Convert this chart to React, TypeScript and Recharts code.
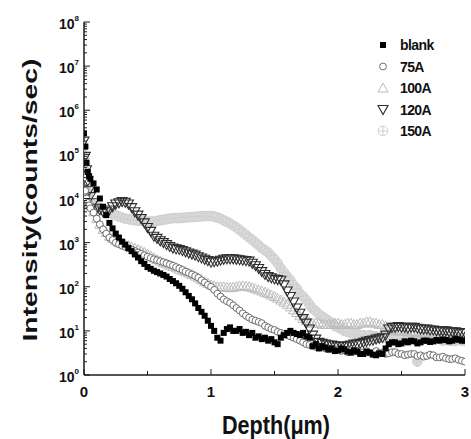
import React from 'react'
import { ScatterChart, Scatter, XAxis, YAxis, Legend } from 'recharts'

// depth in µm: surface spike, then every 0.025
const depth = [
  0, 0.01, 0.02, 0.03, 0.04,
  0.05, 0.075, 0.1, 0.125, 0.15, 0.175, 0.2, 0.225, 0.25, 0.275,
  0.3, 0.325, 0.35, 0.375, 0.4, 0.425, 0.45, 0.475, 0.5, 0.525,
  0.55, 0.575, 0.6, 0.625, 0.65, 0.675, 0.7, 0.725, 0.75, 0.775,
  0.8, 0.825, 0.85, 0.875, 0.9, 0.925, 0.95, 0.975, 1.0, 1.025,
  1.05, 1.075, 1.1, 1.125, 1.15, 1.175, 1.2, 1.225, 1.25, 1.275,
  1.3, 1.325, 1.35, 1.375, 1.4, 1.425, 1.45, 1.475, 1.5, 1.525,
  1.55, 1.575, 1.6, 1.625, 1.65, 1.675, 1.7, 1.725, 1.75, 1.775,
  1.8, 1.825, 1.85, 1.875, 1.9, 1.925, 1.95, 1.975, 2.0, 2.025,
  2.05, 2.075, 2.1, 2.125, 2.15, 2.175, 2.2, 2.225, 2.25, 2.275,
  2.3, 2.325, 2.35, 2.375, 2.4, 2.425, 2.45, 2.475, 2.5, 2.525,
  2.55, 2.575, 2.6, 2.625, 2.65, 2.675, 2.7, 2.725, 2.75, 2.775,
  2.8, 2.825, 2.85, 2.875, 2.9, 2.925, 2.95, 2.975, 3.0,
]

const blank = [
  300000, 150000, 65000, 40000, 32000,
  28000, 22000, 16000, 10000, 6500, 4200, 2800, 2100, 1600, 1300,
  1050, 900, 750, 640, 540, 460, 380, 330, 280, 255,
  230, 215, 200, 185, 170, 150, 135, 120, 105, 90,
  75, 62, 52, 42, 33, 27, 22, 17, 13, 10,
  7, 6, 9, 11, 12, 10, 10, 11, 9, 9.5,
  8, 9, 7, 7.5, 6.5, 7, 6, 6.5, 5.5, 5,
  7, 8, 9, 10, 9, 8.5, 8, 9, 7.5, 7,
  4.5, 5, 4, 4.5, 4.2, 3.8, 4, 3.5, 3.6, 4,
  3.8, 3.4, 3.2, 3.6, 3.4, 3, 3, 3.4, 3.2, 2.9,
  2.8, 3.1, 3, 4, 5, 5.5, 5.5, 5, 5.2, 5.8,
  5.5, 6, 5.8, 5.2, 5.5, 6, 6, 5.6, 5.8, 6.2,
  6, 6.4, 6.2, 5.8, 6, 6.5, 6.3, 6, 6,
]

const a75 = [
  30000, 15000, 10000, 8000, 7000,
  6000, 4800, 3500, 2600, 2000, 1600, 1300, 1150, 1000, 920,
  850, 800, 750, 700, 650, 600, 560, 520, 480, 450,
  420, 400, 380, 360, 340, 320, 300, 280, 260, 240,
  220, 205, 190, 175, 160, 140, 125, 110, 100, 85,
  70, 60, 52, 47, 43, 38, 33, 29, 25, 22,
  20, 18, 17, 16, 15, 13, 12, 11, 10.5, 9.5,
  9, 8.5, 8, 7.5, 7, 6.5, 6, 5.5, 5, 4.8,
  4.5, 4.3, 4.2, 4.4, 4, 3.8, 3.9, 3.6, 3.8, 3.5,
  3.6, 3.3, 3.6, 3.4, 3.4, 3.2, 3.3, 3.5, 3.2, 3.1,
  3.5, 3.2, 3.2, 3, 3.1, 3.3, 3.3, 3, 3, 2.8,
  2.9, 3, 3, 2.7, 2.8, 2.6, 2.7, 2.9, 2.8, 2.5,
  2.5, 2.6, 2.4, 2.3, 2.3, 2.4, 2.2, 2.1, 2,
]

const a100 = [
  100000, 50000, 25000, 14000, 9000,
  7000, 5000, 3500, 2600, 2000, 1700, 1400, 1250, 1100, 1000,
  950, 900, 850, 800, 750, 700, 650, 600, 550, 500,
  450, 410, 380, 350, 330, 310, 290, 270, 250, 235,
  220, 205, 190, 175, 160, 145, 130, 120, 110, 105,
  100, 100, 100, 97, 95, 98, 100, 103, 105, 102,
  100, 95, 90, 85, 80, 75, 70, 65, 60, 55,
  50, 45, 40, 35, 30, 26, 22, 19, 17, 16,
  15, 15, 15, 14, 14, 14, 14, 15, 15, 14,
  14, 15, 15, 14, 14, 15, 15, 16, 16, 15,
  15, 14, 14, 13, 11, 11, 10, 10, 10, 10,
  9.5, 9.5, 9.5, 9, 9, 9, 9, 8.5, 8.5, 8.5,
  8.5, 8, 8, 8, 8, 8, 7.5, 7.5, 7.5,
]

const a120 = [
  200000, 90000, 45000, 25000, 15000,
  11000, 8000, 6000, 5500, 5000, 5000, 5500, 6500, 7500, 8000,
  8500, 8200, 7500, 6200, 5000, 4200, 3500, 2800, 2200, 1800,
  1400, 1250, 1100, 1000, 900, 820, 750, 720, 700, 660,
  620, 580, 550, 520, 480, 450, 420, 390, 360, 370,
  380, 400, 420, 430, 430, 430, 420, 410, 400, 390,
  380, 340, 300, 260, 220, 190, 170, 160, 150, 145,
  140, 110, 80, 60, 45, 33, 25, 19, 15, 11,
  8, 6.5, 5.5, 5.2, 5, 4.8, 4.8, 4.6, 4.5, 4.5,
  4.5, 4.6, 4.8, 5, 5, 5.2, 5.5, 5.8, 6, 6.2,
  6.5, 6.8, 7, 8, 11, 12, 12, 12.5, 12, 12,
  11.5, 12, 12, 11.5, 11, 11, 11, 10.5, 10.5, 10,
  10, 10, 10, 9.5, 9.5, 9.5, 9, 9, 9,
]

const a150 = [
  150000, 40000, 15000, 10000, 8500,
  8000, 7200, 6500, 6000, 5500, 5100, 4800, 4500, 4200, 3900,
  3700, 3500, 3400, 3300, 3200, 3150, 3100, 3050, 3000, 3000,
  3000, 3100, 3200, 3300, 3400, 3500, 3600, 3600, 3600, 3650,
  3700, 3750, 3800, 3850, 3900, 3950, 4000, 4000, 4000, 3900,
  3700, 3500, 3200, 2950, 2700, 2450, 2200, 1950, 1700, 1500,
  1300, 1150, 1000, 870, 750, 670, 600, 500, 420, 340,
  260, 210, 170, 140, 110, 90, 70, 60, 50, 40,
  32, 28, 24, 21, 19, 17, 15, 13, 12, 11,
  10, 9.5, 9, 8.5, 8.5, 8, 8, 7.5, 8, 7.5,
  7.5, 7, 7.5, 7, 7, 7.5, 7, 6.5, 7, 7,
  7, 6.5, 6.5, 2, 7, 6.5, 7, 6.5, 6.5, 6.5,
  6.5, 6, 6.5, 6, 6, 6, 6.5, 6, 6,
]

const decades = [1, 10, 100, 1000, 10000, 100000, 1000000, 10000000, 100000000]
const minorSteps = [1, 2, 3, 4, 5, 6, 7, 8, 9]
const yTicks = decades.slice(0, -1).flatMap((d) => minorSteps.map((m) => d * m)).concat([100000000])
const xTicks = [0, 0.5, 1, 1.5, 2, 2.5, 3]

const FONT = '"Liberation Sans", Arial, sans-serif'
const AXIS = '#1c1c1c'

type Kind = 'square' | 'circle' | 'triUp' | 'triDown' | 'crossCircle'

const series: { name: string; values: number[]; kind: Kind; stroke: string; fill: string }[] = [
  { name: 'blank', values: blank, kind: 'square', stroke: '#000', fill: '#000' },
  { name: '75A', values: a75, kind: 'circle', stroke: '#6e6e6e', fill: '#fff' },
  { name: '100A', values: a100, kind: 'triUp', stroke: '#bcbcbc', fill: 'none' },
  { name: '120A', values: a120, kind: 'triDown', stroke: '#2e2e2e', fill: 'none' },
  { name: '150A', values: a150, kind: 'crossCircle', stroke: '#cfcfcf', fill: '#dadada' },
]

// bottom layer first
const drawOrder = ['150A', '100A', '120A', '75A', 'blank']

function Marker({ kind, cx, cy, stroke, fill }: { kind: Kind; cx: number; cy: number; stroke: string; fill: string }) {
  if (cx == null || cy == null || isNaN(cx) || isNaN(cy)) return null
  switch (kind) {
    case 'square':
      return <rect x={cx - 3} y={cy - 3} width={6} height={6} fill={fill} />
    case 'circle':
      return <circle cx={cx} cy={cy} r={3.4} fill={fill} stroke={stroke} strokeWidth={1} />
    case 'triUp':
      return <polygon points={`${cx},${cy - 5} ${cx - 5},${cy + 4} ${cx + 5},${cy + 4}`} fill={fill} stroke={stroke} strokeWidth={1} />
    case 'triDown':
      return <polygon points={`${cx - 5},${cy - 4} ${cx + 5},${cy - 4} ${cx},${cy + 5}`} fill={fill} stroke={stroke} strokeWidth={1.1} />
    case 'crossCircle':
      return (
        <g stroke={stroke} strokeWidth={1}>
          <circle cx={cx} cy={cy} r={4.8} fill={fill} />
          <line x1={cx - 4.8} x2={cx + 4.8} y1={cy} y2={cy} />
          <line x1={cx} x2={cx} y1={cy - 4.8} y2={cy + 4.8} />
        </g>
      )
  }
  return null
}

const YTick = (props: any) => {
  const { x, y, payload } = props
  const e = Math.log10(payload.value)
  const major = Math.abs(e - Math.round(e)) < 1e-9
  return (
    <g>
      <line x1={x} x2={x + (major ? 6 : 3)} y1={y} y2={y} stroke={AXIS} strokeWidth={1} />
      {major && (
        <text x={x - 5} y={y + 7} textAnchor="end" fontSize={14} fontWeight="bold" fontFamily={FONT} fill="#111">
          10
          <tspan dy={-8} fontSize={8}>{Math.round(e)}</tspan>
        </text>
      )}
    </g>
  )
}

const XTick = (props: any) => {
  const { x, y, payload } = props
  const major = Number.isInteger(payload.value)
  return (
    <g>
      <line x1={x} x2={x} y1={y} y2={y - (major ? 6 : 4)} stroke={AXIS} strokeWidth={1} />
      {major && (
        <text x={x} y={y + 22} textAnchor="middle" fontSize={15} fontWeight="bold" fontFamily={FONT} fill="#111">
          {payload.value}
        </text>
      )}
    </g>
  )
}

const YTitle = () => (
  <text
    transform="translate(37,200) rotate(-90)"
    textAnchor="middle"
    fontSize={20}
    fontWeight="bold"
    fontFamily={FONT}
    fill="#111"
    textLength={283}
    lengthAdjust="spacingAndGlyphs"
  >
    Intensity(counts/sec)
  </text>
)

const XTitle = () => (
  <text
    x={276}
    y={434}
    textAnchor="middle"
    fontSize={25}
    fontWeight="bold"
    fontFamily={FONT}
    fill="#111"
    textLength={108}
    lengthAdjust="spacingAndGlyphs"
  >
    Depth(μm)
  </text>
)

const renderLegend = () => (
  <svg width={100} height={110} style={{ display: 'block' }}>
    {series.map((s, i) => (
      <g key={s.name}>
        <Marker kind={s.kind} cx={13} cy={11 + i * 21.5} stroke={s.stroke} fill={s.kind === 'crossCircle' ? 'none' : s.fill} />
        <text x={30} y={16 + i * 21.5} fontSize={14} fontWeight="bold" fontFamily={FONT} fill="#111" letterSpacing={-0.6}>
          {s.name}
        </text>
      </g>
    ))}
  </svg>
)

export default function App() {
  return (
    <div style={{ position: 'absolute', left: 0, top: 0, width: 471, height: 439, background: '#fff' }}>
      <ScatterChart width={471} height={439} margin={{ top: 22, right: 6, bottom: 0, left: 0 }}>
        <XAxis
          dataKey="depth"
          type="number"
          domain={[0, 3]}
          ticks={xTicks}
          interval={0}
          height={64}
          tickSize={0}
          tickMargin={0}
          tick={<XTick />}
          axisLine={{ stroke: AXIS, strokeWidth: 1.5 }}
          label={<XTitle />}
          allowDataOverflow
        />
        <XAxis xAxisId="top" orientation="top" type="number" domain={[0, 3]} height={0} tick={false} tickLine={false} axisLine={{ stroke: AXIS, strokeWidth: 1.5 }} />
        <YAxis
          dataKey="value"
          type="number"
          scale="log"
          domain={[1, 100000000]}
          ticks={yTicks}
          interval={0}
          width={84}
          tickSize={0}
          tickMargin={0}
          tick={<YTick />}
          axisLine={{ stroke: AXIS, strokeWidth: 1.5 }}
          label={<YTitle />}
          allowDataOverflow
        />
        <YAxis yAxisId="right" orientation="right" type="number" scale="log" domain={[1, 100000000]} width={0} tick={false} tickLine={false} axisLine={{ stroke: AXIS, strokeWidth: 1.5 }} />
        {drawOrder.map((name) => {
          const s = series.find((q) => q.name === name)!
          const rows = depth.map((d, i) => ({ depth: d, value: s.values[i] }))
          return (
            <Scatter
              key={s.name}
              name={s.name}
              data={rows}
              isAnimationActive={false}
              shape={(p: any) => <Marker kind={s.kind} cx={p.cx} cy={p.cy} stroke={s.stroke} fill={s.fill} />}
            />
          )
        })}
        <Legend
          layout="horizontal"
          verticalAlign="middle"
          align="center"
          content={renderLegend}
          wrapperStyle={{ left: 370, top: 34, width: 100, height: 110 }}
        />
      </ScatterChart>
    </div>
  )
}
